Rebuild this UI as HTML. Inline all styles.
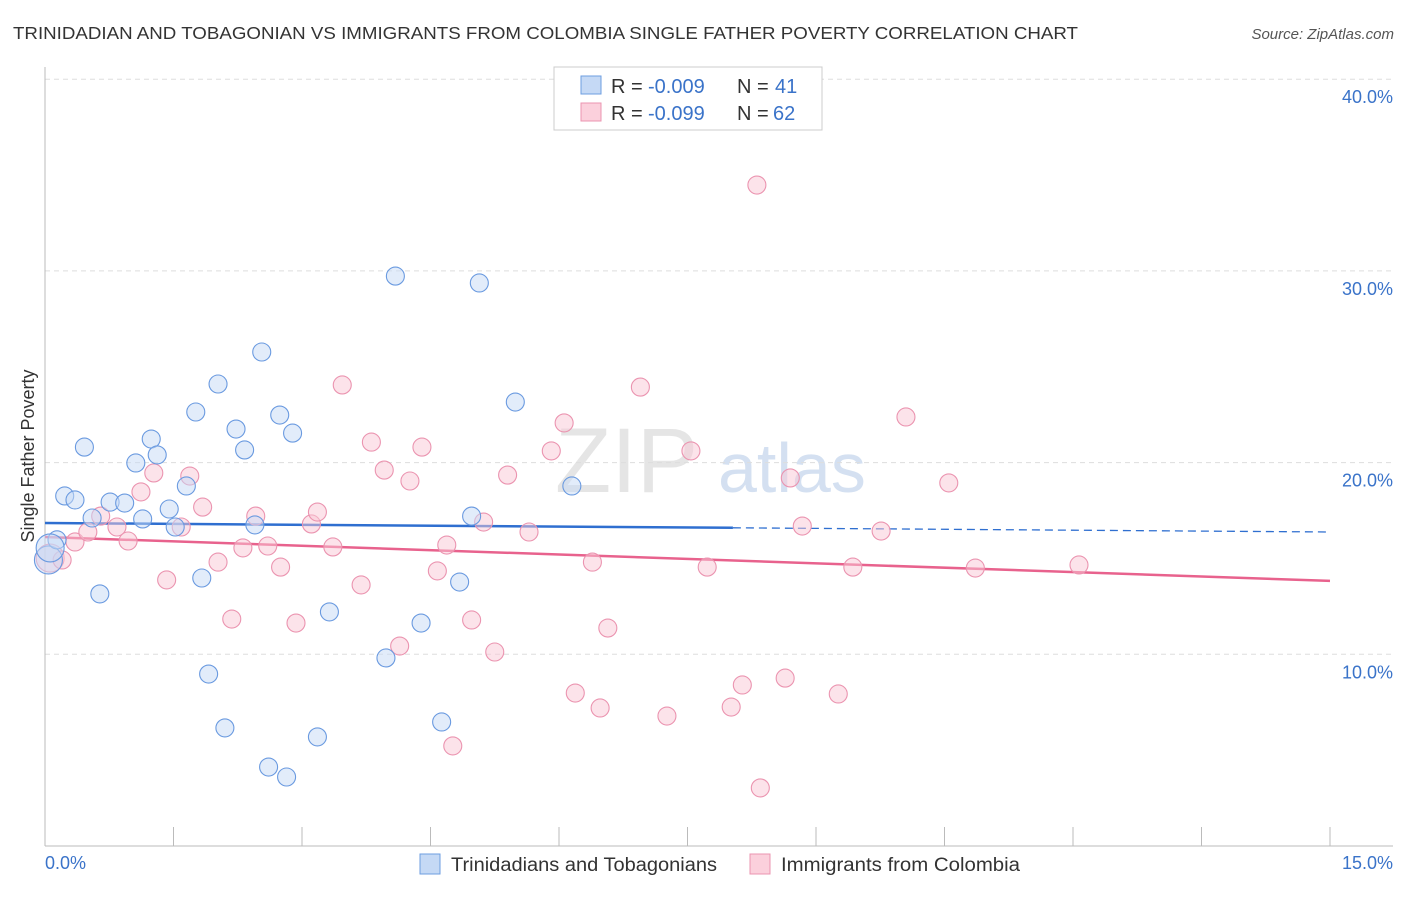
<!DOCTYPE html>
<html><head><meta charset="utf-8"><style>
body{margin:0;background:#fff;font-family:"Liberation Sans",sans-serif}
svg text{font-family:"Liberation Sans",sans-serif}
</style></head><body>
<svg id="chart" width="1406" height="892">
<text x="13" y="39" font-size="17.5" fill="#333" textLength="1065" lengthAdjust="spacingAndGlyphs">TRINIDADIAN AND TOBAGONIAN VS IMMIGRANTS FROM COLOMBIA SINGLE FATHER POVERTY CORRELATION CHART</text>
<text x="1394" y="39" font-size="15" fill="#555" font-style="italic" text-anchor="end">Source: ZipAtlas.com</text>
<g><text x="555" y="492" font-size="92" fill="#d4d4d4" font-family="Liberation Serif,serif" opacity="0.6">ZIP</text><text x="718" y="492" font-size="70" fill="#b8cde8" opacity="0.6">atlas</text></g>
<g id="grid"></g><g id="axes"></g><g id="trend"></g><g id="points"></g>
<text transform="translate(34,456) rotate(-90)" font-size="18" fill="#333" text-anchor="middle">Single Father Poverty</text>
<text x="45" y="869" font-size="18" fill="#3a73c9">0.0%</text>
<text x="1393" y="869" font-size="18" fill="#3a73c9" text-anchor="end">15.0%</text>
<g>
<rect x="554" y="67" width="268" height="63" fill="#fff" stroke="#ccc"/>
<rect x="581" y="76" width="20" height="18" fill="#c5d9f5" stroke="#6d9ee0"/>
<rect x="581" y="103" width="20" height="18" fill="#fbd0dc" stroke="#eb94b0"/>
<text x="611" y="93" font-size="20" fill="#333">R = </text>
<text x="648" y="93" font-size="20" fill="#3a73c9">-0.009</text>
<text x="737" y="93" font-size="20" fill="#333">N = </text>
<text x="775" y="93" font-size="20" fill="#3a73c9">41</text>
<text x="611" y="120" font-size="20" fill="#333">R = </text>
<text x="648" y="120" font-size="20" fill="#3a73c9">-0.099</text>
<text x="737" y="120" font-size="20" fill="#333">N = </text>
<text x="773" y="120" font-size="20" fill="#3a73c9">62</text>
</g>
<g>
<rect x="420" y="854" width="20" height="20" fill="#c5d9f5" stroke="#6d9ee0"/>
<text x="451" y="871" font-size="19" fill="#333" textLength="266" lengthAdjust="spacingAndGlyphs">Trinidadians and Tobagonians</text>
<rect x="750" y="854" width="20" height="20" fill="#fbd0dc" stroke="#eb94b0"/>
<text x="781" y="871" font-size="19" fill="#333" textLength="239" lengthAdjust="spacingAndGlyphs">Immigrants from Colombia</text>
</g>
</svg>
<script>
const yTicks=[10,20,30,40];
const yTickLabels=["10.0%","20.0%","30.0%","40.0%"];
const xTicks=[0,1.5,3,4.5,6,7.5,9,10.5,12,13.5,15];
const blueX=[0.04,0.14,0.23,0.35,0.46,0.55,0.64,0.76,0.93,1.06,1.14,1.24,1.31,1.45,1.52,1.65,1.76,1.83,1.91,2.02,2.10,2.23,2.33,2.45,2.53,2.61,2.74,2.82,2.89,3.18,3.32,3.98,4.09,4.39,4.63,4.84,4.98,5.07,5.49,6.15,0.06];
const blueY=[14.92,15.97,18.26,18.05,20.81,17.11,13.15,17.94,17.89,19.98,17.06,21.23,20.40,17.58,16.64,18.78,22.64,13.98,8.97,24.10,6.16,21.75,20.66,16.75,25.77,4.12,22.48,3.60,21.54,5.69,12.21,9.81,29.73,11.63,6.47,13.77,17.21,29.37,23.16,18.78,15.55];
const pinkX=[0.06,0.20,0.35,0.50,0.65,0.84,0.97,1.12,1.27,1.42,1.59,1.69,1.84,2.02,2.18,2.31,2.46,2.60,2.75,2.93,3.11,3.18,3.36,3.47,3.69,3.81,3.96,4.14,4.26,4.40,4.58,4.69,4.76,4.98,5.12,5.25,5.40,5.65,5.91,6.06,6.19,6.39,6.48,6.57,6.95,7.26,7.54,7.73,8.01,8.14,8.31,8.35,8.64,8.70,8.84,9.26,9.43,9.76,10.05,10.55,10.86,12.07];
const pinkY=[15.02,14.92,15.86,16.38,17.21,16.64,15.91,18.47,19.46,13.88,16.64,19.30,17.68,14.81,11.84,15.55,17.21,15.65,14.55,11.63,16.80,17.42,15.60,24.05,13.62,21.07,19.61,10.43,19.04,20.81,14.35,15.70,5.22,11.79,16.90,10.12,19.35,16.38,20.61,22.07,7.98,14.81,7.20,11.37,23.94,6.78,20.61,14.55,7.25,8.40,34.48,3.03,8.76,19.20,16.69,7.93,14.55,16.43,22.38,18.94,14.50,14.66];
const blueTrend=[16.85,16.38];
const pinkTrend=[16.12,13.83];
const blueSolidEnd=8.03;

const NS="http://www.w3.org/2000/svg";
const X0=45,X1=1330,Y0=846,YPER=19.17;
function sx(v){return X0+(X1-X0)*v/15;}
function sy(v){return Y0-v*YPER;}
function mk(tag,attrs,parent){const e=document.createElementNS(NS,tag);for(const k in attrs)e.setAttribute(k,attrs[k]);document.getElementById(parent).appendChild(e);return e;}

yTicks.forEach((t,i)=>{
 const g=mk('line',{x1:45,x2:1393,y1:sy(t),y2:sy(t),stroke:'#ddd','stroke-dasharray':'5,4'},'grid');
 
 
 const l=mk('text',{x:1393,y:sy(t)+24,'font-size':18,fill:'#3a73c9','text-anchor':'end'},'grid');
 l.textContent=yTickLabels[i];
 
 
});
const ya=mk('line',{x1:45,x2:45,y1:67,y2:846,stroke:'#bbb'},'axes');


const xa=mk('line',{x1:45,x2:1393,y1:846,y2:846,stroke:'#bbb'},'axes');


xTicks.forEach(t=>{
 const k=mk('line',{x1:sx(t),x2:sx(t),y1:827,y2:846,stroke:'#bbb'},'axes');
 
 
});
function pts(xs,ys,fill,stroke,name){
 xs.forEach((x,i)=>{
  const r=(x<0.1)?14:9;
  const c=mk('circle',{cx:sx(x),cy:sy(ys[i]),r:r,fill:fill,'fill-opacity':0.5,stroke:stroke,'stroke-width':1.1},'points');
  
  
 });
}
pts(pinkX,pinkY,'#f9c8d6','#eb94b0','colombia-point');
pts(blueX,blueY,'#c5d9f5','#6a9ae0','trinidad-point');
function trendVal(t,x){return t[0]+(t[1]-t[0])*x/15;}
const b1=mk('line',{x1:sx(0),y1:sy(blueTrend[0]),x2:sx(blueSolidEnd),y2:sy(trendVal(blueTrend,blueSolidEnd)),stroke:'#2f6fd0','stroke-width':2.5},'trend');


const b2=mk('line',{x1:sx(blueSolidEnd),y1:sy(trendVal(blueTrend,blueSolidEnd)),x2:sx(15),y2:sy(blueTrend[1]),stroke:'#2f6fd0','stroke-width':1.3,'stroke-dasharray':'8,5'},'trend');


const p1=mk('line',{x1:sx(0),y1:sy(pinkTrend[0]),x2:sx(15),y2:sy(pinkTrend[1]),stroke:'#e8628d','stroke-width':2.5},'trend');


</script>
</body></html>
